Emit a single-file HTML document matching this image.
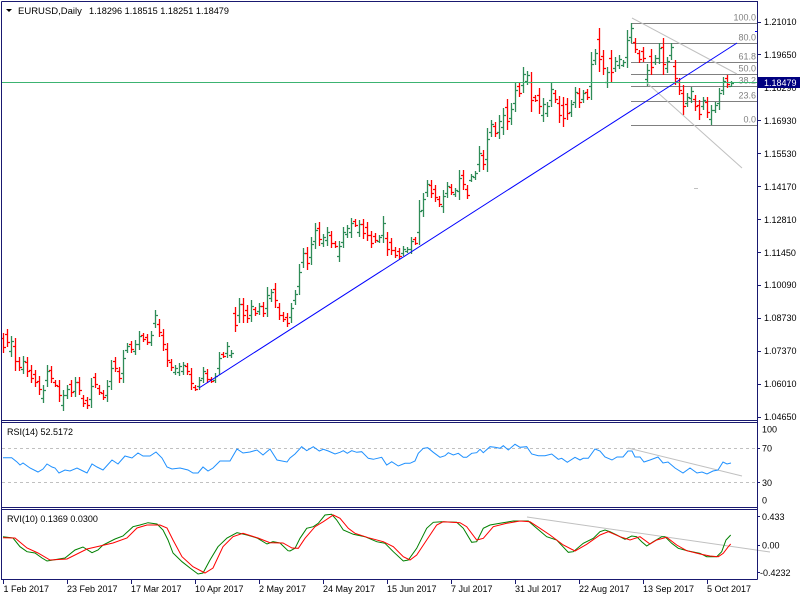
<!DOCTYPE html>
<html><head><meta charset="utf-8"><style>
html,body{margin:0;padding:0;background:#fff;}
svg{display:block;}
text{font-family:"Liberation Sans",Arial,sans-serif;font-size:9px;fill:#000;}
</style></head><body>
<svg width="800" height="600" viewBox="0 0 800 600" xmlns="http://www.w3.org/2000/svg">
<rect width="800" height="600" fill="#fff"/>

<!-- header -->
<polygon points="6,9 12,9 9,12" fill="#000"/>
<text x="18" y="14" style="font-size:9.5px">EURUSD,Daily</text>
<text x="89" y="14" textLength="140" lengthAdjust="spacingAndGlyphs">1.18296 1.18515 1.18251 1.18479</text>

<!-- fib lines -->
<g stroke="#808080" stroke-width="1" fill="none">
<path d="M631 23.5H757M631 43.5H757M631 62.5H757M631 74.5H757M631 86.5H757M631 101.5H757M631 125.5H757"/>
</g>
<g style="fill:#808080" text-anchor="end">
<text x="756" y="20.5" style="fill:#808080">100.0</text>
<text x="756" y="40.5" style="fill:#808080">80.0</text>
<text x="756" y="59.5" style="fill:#808080">61.8</text>
<text x="756" y="71.5" style="fill:#808080">50.0</text>
<text x="756" y="83.5" style="fill:#808080">38.2</text>
<text x="756" y="98.5" style="fill:#808080">23.6</text>
<text x="756" y="122.5" style="fill:#808080">0.0</text>
</g>

<!-- bars green -->
<path fill="none" stroke="#2E8B57" stroke-width="1.3" d="
M11.5 336V357M9 351.5h2M12 341.5h2
M23.5 356V374M21 369.5h2M24 361.5h2
M43.5 385V403M41 398.5h2M44 390.5h2
M47.5 365V387M45 380.5h2M48 371.5h2
M63.5 390V411M61 405.5h2M64 395.5h2
M67.5 385V399M65 395.5h2M68 389.5h2
M75.5 377V397M73 391.5h2M76 382.5h2
M91.5 378V408M89 399.5h2M92 386.5h2
M107.5 380V402M105 395.5h2M108 386.5h2
M111.5 360V390M109 381.5h2M112 368.5h2
M123.5 350V383M121 373.5h2M124 358.5h2
M127.5 343V353M125 350.5h2M128 346.5h2
M135.5 340V355M133 351.5h2M136 344.5h2
M139.5 331V350M137 344.5h2M140 336.5h2
M151.5 331V346M149 342.5h2M152 335.5h2
M155.5 310V328M153 323.5h2M156 315.5h2
M175.5 365V375M173 372.5h2M176 368.5h2
M179.5 363V376M177 372.5h2M180 366.5h2
M183.5 362V375M181 371.5h2M184 365.5h2
M199.5 377V390M197 386.5h2M200 380.5h2
M203.5 367V383M201 378.5h2M204 371.5h2
M215.5 373V383M213 380.5h2M216 376.5h2
M219.5 352V375M217 368.5h2M220 358.5h2
M227.5 342V358M225 353.5h2M228 346.5h2
M231.5 350V358M229 355.5h2M232 353.5h2
M239.5 298V323M237 315.5h2M240 304.5h2
M251.5 300V322M249 315.5h2M252 306.5h2
M259.5 303V315M257 311.5h2M260 306.5h2
M267.5 287V317M265 308.5h2M268 295.5h2
M271.5 289V302M269 298.5h2M272 292.5h2
M291.5 303V323M289 317.5h2M292 308.5h2
M295.5 290V305M293 300.5h2M296 294.5h2
M299.5 264V295M297 286.5h2M300 272.5h2
M303.5 248V268M301 262.5h2M304 253.5h2
M311.5 237V265M309 257.5h2M312 244.5h2
M315.5 223V249M313 241.5h2M316 230.5h2
M323.5 234V247M321 243.5h2M324 237.5h2
M327.5 227V246M325 240.5h2M328 232.5h2
M339.5 241V262M337 256.5h2M340 246.5h2
M343.5 227V248M341 242.5h2M344 232.5h2
M347.5 225V238M345 234.5h2M348 228.5h2
M351.5 218V238M349 232.5h2M352 223.5h2
M359.5 220V237M357 232.5h2M360 224.5h2
M379.5 235V243M377 241.5h2M380 237.5h2
M383.5 216V243M381 235.5h2M384 223.5h2
M403.5 246V256M401 253.5h2M404 249.5h2
M407.5 247V253M405 251.5h2M408 249.5h2
M411.5 237V254M409 249.5h2M412 241.5h2
M419.5 200V245M417 232.5h2M420 211.5h2
M423.5 193V217M421 210.5h2M424 199.5h2
M427.5 180V197M425 192.5h2M428 184.5h2
M443.5 190V213M441 206.5h2M444 196.5h2
M447.5 182V198M445 193.5h2M448 186.5h2
M455.5 188V197M453 194.5h2M456 190.5h2
M459.5 170V200M457 191.5h2M460 178.5h2
M471.5 174V182M469 180.5h2M472 176.5h2
M475.5 171V180M473 177.5h2M476 173.5h2
M479.5 146V172M477 164.5h2M480 153.5h2
M487.5 128V172M485 159.5h2M488 139.5h2
M491.5 120V137M489 132.5h2M492 124.5h2
M499.5 115V139M497 132.5h2M500 121.5h2
M503.5 108V135M501 127.5h2M504 115.5h2
M511.5 103V125M509 118.5h2M512 109.5h2
M515.5 82V112M513 103.5h2M516 90.5h2
M523.5 67V93M521 85.5h2M524 74.5h2
M527.5 71V85M525 81.5h2M528 75.5h2
M543.5 98V122M541 115.5h2M544 104.5h2
M547.5 102V117M545 113.5h2M548 106.5h2
M551.5 83V107M549 100.5h2M552 89.5h2
M571.5 100V117M569 112.5h2M572 104.5h2
M575.5 87V108M573 102.5h2M576 92.5h2
M583.5 90V103M581 99.5h2M584 93.5h2
M591.5 52V100M589 86.5h2M592 64.5h2
M595.5 49V65M593 60.5h2M596 53.5h2
M607.5 67V88M605 82.5h2M608 72.5h2
M615.5 57V72M613 68.5h2M616 61.5h2
M619.5 55V69M617 65.5h2M620 59.5h2
M623.5 60V67M621 65.5h2M624 62.5h2
M627.5 30V68M625 57.5h2M628 40.5h2
M631.5 23V43M629 37.5h2M632 28.5h2
M647.5 64V86M645 79.5h2M648 70.5h2
M655.5 55V65M653 62.5h2M656 58.5h2
M659.5 43V64M657 58.5h2M660 48.5h2
M667.5 57V73M665 68.5h2M668 61.5h2
M671.5 43V60M669 55.5h2M672 47.5h2
M687.5 93V107M685 103.5h2M688 97.5h2
M691.5 87V103M689 98.5h2M692 91.5h2
M703.5 97V110M701 106.5h2M704 100.5h2
M711.5 105V125M709 119.5h2M712 110.5h2
M715.5 102V113M713 110.5h2M716 105.5h2
M719.5 88V110M717 103.5h2M720 93.5h2
M723.5 77V95M721 90.5h2M724 81.5h2
M731.5 81V87M729 86.5h2M732 83.5h2
"/>

<!-- bars red -->
<path fill="none" stroke="#FF0000" stroke-width="1.3" d="
M3.5 333V353M1 338.5h2M4 347.5h2
M7.5 329V347M5 334.5h2M8 342.5h2
M15.5 338V371M13 346.5h2M16 361.5h2
M19.5 357V371M17 361.5h2M20 367.5h2
M27.5 357V377M25 362.5h2M28 371.5h2
M31.5 365V383M29 370.5h2M32 378.5h2
M35.5 370V387M33 374.5h2M36 382.5h2
M39.5 376V395M37 381.5h2M40 389.5h2
M51.5 366V383M49 370.5h2M52 378.5h2
M55.5 380V387M53 382.5h2M56 385.5h2
M59.5 380V402M57 386.5h2M60 395.5h2
M71.5 380V397M69 384.5h2M72 392.5h2
M79.5 377V395M77 382.5h2M80 390.5h2
M83.5 395V407M81 398.5h2M84 403.5h2
M87.5 397V409M85 400.5h2M88 405.5h2
M95.5 373V388M93 377.5h2M96 384.5h2
M99.5 385V395M97 388.5h2M100 392.5h2
M103.5 390V400M101 393.5h2M104 397.5h2
M115.5 357V372M113 361.5h2M116 368.5h2
M119.5 367V383M117 371.5h2M120 378.5h2
M131.5 341V353M129 344.5h2M132 349.5h2
M143.5 333V342M141 335.5h2M144 339.5h2
M147.5 334V345M145 337.5h2M148 342.5h2
M159.5 319V337M157 324.5h2M160 332.5h2
M163.5 329V351M161 335.5h2M164 344.5h2
M167.5 343V367M165 349.5h2M168 360.5h2
M171.5 359V371M169 362.5h2M172 367.5h2
M187.5 363V375M185 366.5h2M188 371.5h2
M191.5 368V390M189 374.5h2M192 383.5h2
M195.5 385V391M193 387.5h2M196 389.5h2
M207.5 369V383M205 373.5h2M208 379.5h2
M211.5 377V383M209 379.5h2M212 381.5h2
M223.5 352V358M221 354.5h2M224 356.5h2
M235.5 307V332M233 313.5h2M236 325.5h2
M243.5 298V323M241 304.5h2M244 315.5h2
M247.5 305V323M245 310.5h2M248 318.5h2
M255.5 307V316M253 309.5h2M256 313.5h2
M263.5 302V317M261 306.5h2M264 313.5h2
M275.5 283V308M273 289.5h2M276 300.5h2
M279.5 303V320M277 307.5h2M280 315.5h2
M283.5 312V322M281 315.5h2M284 319.5h2
M287.5 313V327M285 317.5h2M288 323.5h2
M307.5 247V270M305 253.5h2M308 263.5h2
M319.5 222V246M317 228.5h2M320 239.5h2
M331.5 231V248M329 235.5h2M332 243.5h2
M335.5 241V248M333 243.5h2M336 246.5h2
M355.5 219V227M353 221.5h2M356 225.5h2
M363.5 219V239M361 224.5h2M364 233.5h2
M367.5 222V241M365 227.5h2M368 235.5h2
M371.5 231V248M369 235.5h2M372 243.5h2
M375.5 233V243M373 236.5h2M376 240.5h2
M387.5 232V256M385 238.5h2M388 249.5h2
M391.5 238V255M389 242.5h2M392 250.5h2
M395.5 247V258M393 250.5h2M396 255.5h2
M399.5 248V259M397 251.5h2M400 256.5h2
M415.5 237V245M413 239.5h2M416 243.5h2
M431.5 180V198M429 185.5h2M432 193.5h2
M435.5 185V202M433 189.5h2M436 197.5h2
M439.5 196V207M437 199.5h2M440 204.5h2
M451.5 184V195M449 187.5h2M452 192.5h2
M463.5 170V190M461 175.5h2M464 184.5h2
M467.5 185V199M465 189.5h2M468 195.5h2
M483.5 150V170M481 155.5h2M484 164.5h2
M495.5 122V137M493 126.5h2M496 133.5h2
M507.5 99V130M505 107.5h2M508 121.5h2
M519.5 82V97M517 86.5h2M520 93.5h2
M531.5 72V112M529 82.5h2M532 100.5h2
M535.5 95V102M533 97.5h2M536 100.5h2
M539.5 88V114M537 95.5h2M540 106.5h2
M555.5 90V103M553 93.5h2M556 99.5h2
M559.5 96V123M557 103.5h2M560 115.5h2
M563.5 97V127M561 105.5h2M564 118.5h2
M567.5 98V120M565 104.5h2M568 113.5h2
M579.5 88V108M577 93.5h2M580 102.5h2
M587.5 89V100M585 92.5h2M588 97.5h2
M599.5 28V72M597 39.5h2M600 59.5h2
M603.5 50V75M601 56.5h2M604 68.5h2
M611.5 50V82M609 58.5h2M612 72.5h2
M635.5 38V53M633 42.5h2M636 49.5h2
M639.5 50V63M637 53.5h2M640 59.5h2
M643.5 47V62M641 51.5h2M644 58.5h2
M651.5 49V75M649 56.5h2M652 67.5h2
M663.5 38V75M661 47.5h2M664 64.5h2
M675.5 60V85M673 66.5h2M676 78.5h2
M679.5 78V95M677 82.5h2M680 90.5h2
M683.5 85V115M681 93.5h2M684 106.5h2
M695.5 95V111M693 99.5h2M696 106.5h2
M699.5 100V120M697 105.5h2M700 114.5h2
M707.5 97V118M705 102.5h2M708 112.5h2
M727.5 75V88M725 78.5h2M728 84.5h2
"/>

<!-- gray channel lines -->
<g stroke="#C0C0C0" stroke-width="1" fill="none">
<line x1="632" y1="18" x2="737" y2="74"/>
<line x1="647" y1="83" x2="742" y2="168"/>
<line x1="694" y1="188.5" x2="698" y2="188.5"/>
<line x1="628" y1="448" x2="742" y2="476"/>
<line x1="527" y1="517" x2="770" y2="552"/>
</g>

<!-- blue trendline -->
<line x1="199" y1="388" x2="737" y2="43" stroke="#0000FF" stroke-width="1"/>
<line x1="755" y1="31.5" x2="758" y2="31.5" stroke="#0000FF" stroke-width="1"/>

<!-- current price line -->
<line x1="2" y1="82.5" x2="757" y2="82.5" stroke="#3CB371" stroke-width="1"/>

<!-- RSI -->
<g stroke="#C0C0C0" stroke-width="1" stroke-dasharray="3 3" fill="none">
<line x1="2" y1="448.5" x2="757" y2="448.5"/>
<line x1="2" y1="482.5" x2="757" y2="482.5"/>
</g>
<polyline fill="none" stroke="#1E90FF" stroke-width="1" points="3,457.7 11.7,457.7 16.7,461.7 20,465 23,463 30,468 38,472 43,469 47,464 52,467 55,468 59,473 65,470 70,471 77,468 83,471 87,473 92,464 97,467 103,470 112,460 118,464 125,456 132,458 138,453 143,456 150,456 156,452 162,458 167,467 172,469 180,468 188,470 193,473 198,473 203,467 208,471 213,468 220,461 230,461 237,449 243,453 250,452 257,450 263,455 270,449 277,460 287,462 290,458 295,454 301.7,446.7 306.7,450.7 313.3,446.7 319.3,451 323.3,449.3 328.3,451 335,454 340,452.3 343.3,450.7 347.3,453.3 351.7,450.7 356.7,452.3 361.7,451.7 368.3,458.3 373.3,459.3 381.7,457.3 386.7,465 391.7,461.7 398.3,466 405,463.3 410,463.3 415,461 418.3,453.3 423.3,448.3 427.7,447.7 433.3,452.3 440,457.3 445,455.7 448.3,452.7 453.3,455 458.3,453.3 463.3,457.3 466.7,457.3 471.7,453.3 476.7,452.7 480,449.3 483.3,452.7 490,446.7 495,447.3 500,448.3 503.3,445.7 508.3,450 515,444.3 520,447.3 526.7,446.7 531.7,454 538.3,455.7 545,455.7 551.7,454 558.3,459.3 561.7,458.3 567.3,462.3 575,457.3 580,460 583.3,458.3 588.3,458.3 595,449 600,451 605,457 612,460 617,457 623,457 628,451 632,451 635,457 640,457 644,462 650,460 658,457 663,463 668,462 675,468 683,473 690,468 697,473 702,472 707,474 713,471 718,470 723,462 727,464 731,463"/>
<text x="7" y="435">RSI(14) 52.5172</text>

<!-- RVI -->
<polyline fill="none" stroke="#008000" stroke-width="1" points="3,536.7 13,538 20,546.7 27,551.7 35,553 42,558 47,561 53,560 65,558 75,550 83,547 92,552.7 98,550 103,545 115,539 123,536 133,526.7 140,525 148,522.7 157,524 163,530 168,540 173,553 182,561.7 190,568 198,574 203,573 210,560 218,546.7 227,538 237,532.7 247,535 257,538 267,544 273,541.7 280,543 288,550.7 290,551 295,548.3 300,538.3 306.7,528.3 313.3,526.7 318.3,523.3 325,515 331.7,514.3 336.7,520 343.3,530 353.3,534.3 365,536.7 376.7,541.7 385,543.3 393.3,551.7 403.3,561 408.3,560 416.7,548.3 426.7,528.3 433.3,522.3 441.7,521.7 456.7,522.3 463.3,528.3 471.7,542.3 476.7,541.7 483.3,528.3 490,525 500,523.3 513.3,521 528.3,521 536.7,528.3 546.7,536.7 556.7,540 568.3,552.3 573.3,551.7 583.3,543.3 593.3,538.3 600,531.7 605,530 610,531.7 616.7,535 625,539.3 631.7,536 636.7,536.7 641.7,541.7 646.7,546 653.3,541.7 661.7,536.7 665,536.7 671.7,543.3 678.3,548.3 688.3,551 700,553.3 706.7,556.7 716.7,556.7 721.7,551.7 726,540 730.7,535"/>
<polyline fill="none" stroke="#FF0000" stroke-width="1" points="3,537.7 15,538 27,548 38,553 50,560 67,559 87,549 100,546 113,543 127,538 137,528 147,525 160,525 167,528 173,540 182,556.7 193,566.7 205,573 213,568 223,546.7 233,536.7 243,533.3 258,538 270,542.7 283,543 292,548 298.3,548.3 305,538.3 315,526.7 323.3,521.7 333.3,515 340,518.3 348.3,528.3 355,533.3 368.3,537.7 383.3,541.7 393.3,546.7 403.3,556.7 410,560 416.7,555 426.7,540 436.7,525 443.3,521.7 460,522.7 466.7,526.7 476.7,540 483.3,538.3 493.3,526.7 506.7,523.3 520,521 530,521.7 540,528.3 550,535 563.3,545 575,551 586.7,544.3 600,535 608.3,531.7 620,536.7 630,540 640,536.7 650,544 656.7,540 666.7,537.3 676.7,545 686.7,550.7 700,554 710,556 718.3,556.7 723.3,553.3 728.3,546.7 730.7,544"/>
<text x="7" y="522">RVI(10) 0.1369 0.0300</text>

<!-- frames -->
<g stroke="#191970" stroke-width="1" fill="none">
<path d="M1.5 1.5H757.5V579.5M1.5 1.5V579.5H757.5"/>
<path d="M1.5 420.5H757.5M1.5 422.5H757.5M1.5 507.5H757.5M1.5 509.5H757.5"/>
<!-- right axis ticks -->
<path d="M757 22.5h4M757 54.5h4M757 87.5h4M757 120.5h4M757 153.5h4M757 186.5h4M757 219.5h4M757 252.5h4M757 285.5h4M757 318.5h4M757 351.5h4M757 384.5h4M757 417.5h4"/>
<path d="M757 448.5h3M757 482.5h3M757 516.5h3M757 545.5h3M757 572.5h3"/>
<!-- x ticks -->
<path d="M3.5 579V584M67.5 579V584M131.5 579V584M195.5 579V584M259.5 579V584M323.5 579V584M387.5 579V584M451.5 579V584M515.5 579V584M579.5 579V584M643.5 579V584M707.5 579V584"/>
</g>

<!-- right axis labels main -->
<g>
<text x="764" y="25">1.21010</text>
<text x="764" y="58">1.19650</text>
<text x="764" y="91">1.18290</text>
<text x="764" y="124">1.16930</text>
<text x="764" y="157">1.15530</text>
<text x="764" y="190">1.14170</text>
<text x="764" y="223">1.12810</text>
<text x="764" y="256">1.11450</text>
<text x="764" y="288">1.10090</text>
<text x="764" y="321">1.08730</text>
<text x="764" y="354">1.07370</text>
<text x="764" y="387">1.06010</text>
<text x="764" y="420">1.04650</text>
</g>
<rect x="758" y="77" width="42" height="11" fill="#000080"/>
<text x="764" y="86" style="fill:#fff">1.18479</text>

<!-- RSI / RVI axis labels -->
<text x="762" y="432.5">100</text>
<text x="762" y="451.5">70</text>
<text x="762" y="486">30</text>
<text x="762" y="503.5">0</text>
<text x="762" y="520">0.433</text>
<text x="762" y="548.5">0.00</text>
<text x="760" y="576">-0.4232</text>

<!-- time labels -->
<text x="3.5" y="592">1 Feb 2017</text>
<text x="67" y="592">23 Feb 2017</text>
<text x="131" y="592">17 Mar 2017</text>
<text x="195" y="592">10 Apr 2017</text>
<text x="259" y="592">2 May 2017</text>
<text x="323" y="592">24 May 2017</text>
<text x="387" y="592">15 Jun 2017</text>
<text x="451" y="592">7 Jul 2017</text>
<text x="515" y="592">31 Jul 2017</text>
<text x="579" y="592">22 Aug 2017</text>
<text x="643" y="592">13 Sep 2017</text>
<text x="707" y="592">5 Oct 2017</text>
</svg>
</body></html>
